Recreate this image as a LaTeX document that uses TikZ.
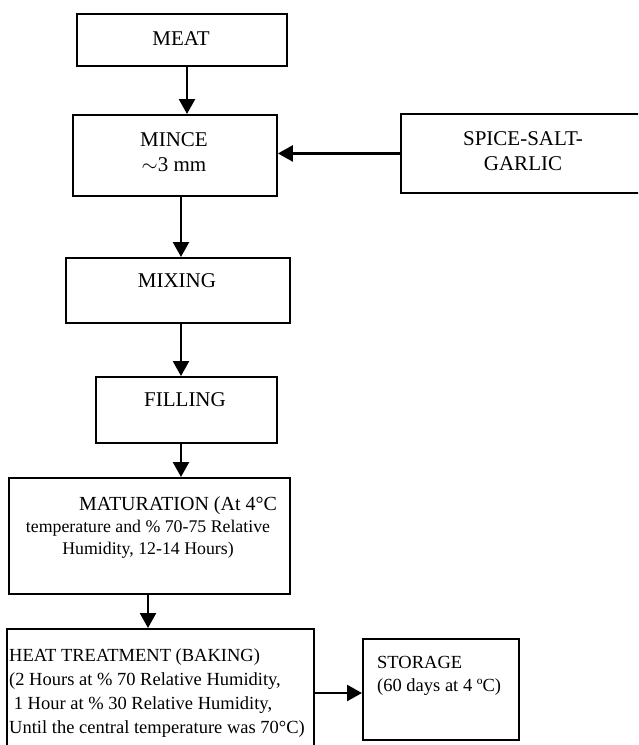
\documentclass[tikz,border=0pt]{standalone}
\usepackage{fontspec}
\setmainfont{Liberation Serif}
\usetikzlibrary{arrows.meta}
\tikzset{
  box/.style={draw, line width=1.9pt, inner sep=0pt, anchor=north west},
  txt/.style={font=\fontsize{21}{25.5}\selectfont, align=center, inner sep=0pt},
  mtxt/.style={font=\fontsize{17.8}{22}\selectfont, align=center, inner sep=0pt},
  ltxt/.style={font=\fontsize{18.5}{23.7}\selectfont, align=left, inner sep=0pt, anchor=west},
  arr/.style={line width=2.4pt, -{Triangle[length=15pt,width=16pt]}}
}
\begin{document}
\begin{tikzpicture}[x=1pt,y=-1pt]
\useasboundingbox[clip] (0,0) rectangle (638,745);
\fill[white] (0,0) rectangle (638,745);
% boxes
\node[box, minimum width=210pt, minimum height=52pt] (meat) at (76,13) {};
\node[box, minimum width=204pt, minimum height=81pt] (mince) at (72,114) {};
\node[box, minimum width=250pt, minimum height=79pt] (spice) at (400,113) {};
\node[box, minimum width=224pt, minimum height=65pt] (mixing) at (65,257) {};
\node[box, minimum width=181pt, minimum height=66pt] (filling) at (95,376) {};
\node[box, minimum width=281pt, minimum height=116pt] (matur) at (8,477) {};
\node[box, minimum width=307pt, minimum height=150pt] (heat) at (6,628) {};
\node[box, minimum width=156pt, minimum height=101pt] (storage) at (362,638) {};
% texts
\node[txt] (tmeat) at (181,39) {MEAT};
\node[txt] (tmince) at (174,152) {MINCE\\$\sim$3 mm};
\node[txt] (tspice) at (523,151) {SPICE-SALT-\\GARLIC};
\node[txt] (tmixing) at (177,281) {MIXING};
\node[txt] (tfilling) at (185,400) {FILLING};
\node[mtxt] (tmatur) at (148,527) {\hspace*{60pt}{\fontsize{20}{22}\selectfont MATURATION (At 4°C}\\temperature and \% 70-75 Relative\\Humidity, 12-14 Hours)};
\node[ltxt] (theat) at (9,693) {HEAT TREATMENT (BAKING)\\(2 Hours at \% 70 Relative Humidity,\\\ 1 Hour at \% 30 Relative Humidity,\\Until the central temperature was 70°C)};
\node[ltxt] (tstorage) at (377,676) {STORAGE\\(60 days at 4 ºC)};
% connector x positions
\coordinate (xa) at (187,0);
\coordinate (xb) at (181,0);
\coordinate (xc) at (148,0);
\coordinate (yh) at (0,693);
% connectors
\draw[arr] (meat.south -| xa) -- (mince.north -| xa);
\draw[arr] (spice.west) -- (spice.west -| mince.east);
\draw[arr] (mince.south -| xb) -- (mixing.north -| xb);
\draw[arr] (mixing.south -| xb) -- (filling.north -| xb);
\draw[arr] (filling.south -| xb) -- (matur.north -| xb);
\draw[arr] (matur.south -| xc) -- (heat.north -| xc);
\draw[arr] (heat.east |- yh) -- (storage.west |- yh);
\end{tikzpicture}
\end{document}
